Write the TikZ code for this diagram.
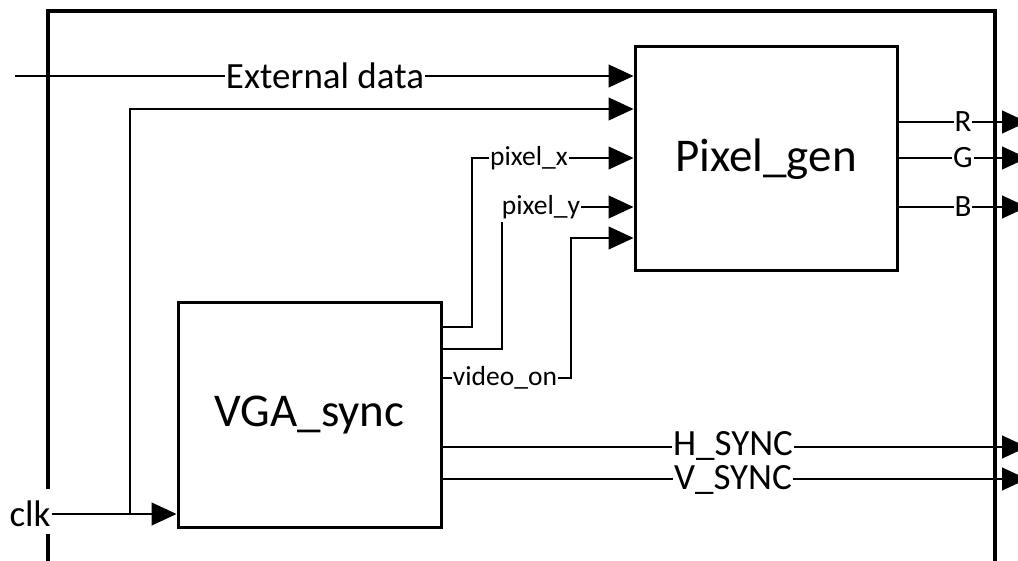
\documentclass[tikz,border=0pt]{standalone}
\usepackage{fontspec}
\setmainfont{Carlito}
\usetikzlibrary{arrows.meta}
\tikzset{
  blk/.style={draw, line width=3pt, rectangle, inner sep=0pt},
  wire/.style={line width=1.1pt},
  arr/.style={wire, -{Triangle[length=25pt,width=23pt]}},
  lbl/.style={fill=white, inner xsep=1pt, inner ysep=0pt},
  big/.style={font=\fontsize{47}{52}\selectfont},
  mid/.style={font=\fontsize{37}{40}\selectfont},
  sml/.style={font=\fontsize{27.5}{30}\selectfont},
  rgb/.style={font=\fontsize{31}{34}\selectfont},
}
\begin{document}
\begin{tikzpicture}[x=1pt,y=-1pt]
\useasboundingbox (0,0) rectangle (1018,561);
\clip (0,0) rectangle (1018,561);
% outer border
\draw[line width=3.5pt] (48,489) -- (48,11) -- (995,11) -- (995,600);
\draw[line width=3.5pt] (48,534) -- (48,600);
% blocks
\node[blk, big, minimum width=262pt, minimum height=224pt] (pg) at (766,159) {Pixel\_gen};
\node[blk, big, minimum width=263pt, minimum height=224pt] (vga) at (309.5,415) {VGA\_sync};
% coordinates
\coordinate (extstart) at (15,76);
\coordinate (clkbr) at (130,514);
\coordinate (rend) at (1027,122);
\coordinate (gend) at (1027,158);
\coordinate (bend) at (1027,207);
\coordinate (hend) at (1027,447);
\coordinate (vend) at (1027,479);
% labels (placed first so wires can reference them)
\node[lbl, sml] (py) at (541,207) {pixel\_y};
% wires
\draw[arr] (extstart) -- (pg.west |- 0,76);
\node[mid, inner sep=1pt] (clk) at (30,514) {clk};
\draw[arr] (clk.east) -- (vga.west |- clk);
\draw[arr] (clkbr) -- (130,109) -- (pg.west |- 0,109);
\draw[arr] (vga.east |- 0,327) -| (472,158) -- (pg.west |- 0,158);
\draw[wire] (vga.east |- 0,349) -| (502,222);
\draw[arr] (py.east) -- (pg.west |- py.east);
\draw[arr] (vga.east |- 0,378) -| (571,238) -- (pg.west |- 0,238);
\draw[arr] (pg.east |- rend) -- (rend);
\draw[arr] (pg.east |- gend) -- (gend);
\draw[arr] (pg.east |- bend) -- (bend);
\draw[arr] (vga.east |- hend) -- (hend);
\draw[arr] (vga.east |- vend) -- (vend);
% labels
\node[lbl, mid] (ext) at (325,76) {External data};
\node[lbl, sml] (px) at (529,158) {pixel\_x};
\node[lbl, sml] (vo) at (505,378) {video\_on};
\node[lbl, rgb] (r) at (963,122) {R};
\node[lbl, rgb] (g) at (963,158) {G};
\node[lbl, rgb] (b) at (963,207) {B};
\node[lbl, mid] (hs) at (733,446) {H\_SYNC};
\node[lbl, mid] (vs) at (733,480) {V\_SYNC};
\end{tikzpicture}
\end{document}
